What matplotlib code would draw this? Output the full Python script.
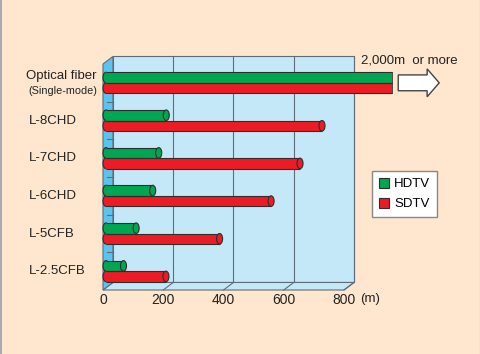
import matplotlib
matplotlib.use("Agg")
import matplotlib.pyplot as plt
from matplotlib.patches import Rectangle, Ellipse, Polygon, FancyArrow, Patch
from matplotlib.lines import Line2D
from matplotlib.transforms import blended_transform_factory

# ---- data ----
categories = ["Optical fiber", "L-8CHD", "L-7CHD", "L-6CHD", "L-5CFB", "L-2.5CFB"]
subtitle = "(Single-mode)"
hdtv = [2000, 210, 185, 165, 110, 68]
sdtv = [2000, 727, 654, 558, 387, 209]
xticks = [0, 200, 400, 600, 800]
xticklabels = ["0", "200", "400", "600", "800"]
unit_label = "(m)"
note = "2,000m  or more"
series_names = ["HDTV", "SDTV"]

# ---- style ----
BG = "#FFE6CF"
WALL = "#C5E8F9"
SIDE = "#5BC4EE"
EDGE = "#5E6C78"
GREEN = "#00A651"
RED = "#ED1C24"
OUT = "#2E2E2E"
FONT = "Liberation Sans"
DISPLAY_CAP = 960       # display limit for values beyond the chart
DX, DY = 33, 0.2        # depth offset (x data units, category units)
BAR_H = 0.28
CAP_W = 20

fig = plt.figure(figsize=(4.8, 3.54), dpi=100, facecolor=BG)
ax = fig.add_axes([103/480, 1-290/354, 241/480, 226/354])
ax.set_xlim(0, 800)
ax.set_ylim(len(categories) - 0.5, -0.5)
ax.patch.set_alpha(0)
for s in ax.spines.values():
    s.set_visible(False)

ymin, ymax = -0.5, len(categories) - 0.5
xmax = xticks[-1]

# back wall
ax.add_patch(Rectangle((DX, ymin - DY), xmax, ymax - ymin, facecolor=WALL,
                       edgecolor=EDGE, lw=0.8, clip_on=False, zorder=1))
# floor
ax.add_patch(Polygon([(0, ymax), (xmax, ymax), (xmax + DX, ymax - DY), (DX, ymax - DY)],
                     closed=True, facecolor=WALL, edgecolor=EDGE, lw=0.8,
                     clip_on=False, zorder=1))
# left side wall
ax.add_patch(Polygon([(0, ymin), (0, ymax), (DX, ymax - DY), (DX, ymin - DY)],
                     closed=True, facecolor=SIDE, edgecolor=EDGE, lw=0.8,
                     clip_on=False, zorder=2))
# grid lines on wall & floor
for xv in xticks[1:]:
    ax.plot([xv + DX, xv + DX], [ymin - DY, ymax - DY], color=EDGE, lw=0.8,
            clip_on=False, zorder=1.5)
    ax.plot([xv, xv + DX], [ymax, ymax - DY], color=EDGE, lw=0.8,
            clip_on=False, zorder=1.5)
# small ticks on side wall
for b in range(1, len(categories)):
    yb = b - 0.5
    ax.plot([DX * 0.45, DX], [yb, yb], color=EDGE, lw=0.8, clip_on=False, zorder=2.5)


def cylinder(y, value, color):
    v = min(value, DISPLAY_CAP)
    x0 = CAP_W / 2
    ax.add_patch(Ellipse((x0, y), CAP_W, BAR_H, facecolor=color,
                         edgecolor=OUT, lw=0.8, clip_on=False, zorder=3))
    ax.add_patch(Rectangle((x0, y - BAR_H / 2), v - x0, BAR_H,
                           facecolor=color, edgecolor="none",
                           clip_on=False, zorder=3.1))
    ax.plot([x0, v], [y - BAR_H / 2, y - BAR_H / 2], color=OUT, lw=0.8,
            clip_on=False, zorder=3.15, solid_capstyle="butt")
    ax.plot([x0, v], [y + BAR_H / 2, y + BAR_H / 2], color=OUT, lw=0.8,
            clip_on=False, zorder=3.15, solid_capstyle="butt")
    if value <= DISPLAY_CAP:
        ax.add_patch(Ellipse((v, y), CAP_W, BAR_H, facecolor=color,
                             edgecolor=OUT, lw=0.8, clip_on=False, zorder=3.2))
    else:
        ax.plot([v, v], [y - BAR_H / 2, y + BAR_H / 2], color=OUT, lw=0.6,
                clip_on=False, zorder=3.15)


for i, (h, s) in enumerate(zip(hdtv, sdtv)):
    cylinder(i - BAR_H / 2, h, GREEN)
    cylinder(i + BAR_H / 2, s, RED)

# arrow + note for the off-scale bars
ax.add_patch(FancyArrow(DISPLAY_CAP + 20, 0, 136, 0, width=0.42, head_width=0.74,
                        head_length=40, length_includes_head=True,
                        facecolor="white", edgecolor="#444444", lw=1.0,
                        clip_on=False, zorder=4))
ax.text(856, -0.59, note, fontsize=9.5, family=FONT, color="#222222",
        ha="left", va="center", clip_on=False)

# category labels
tr = blended_transform_factory(fig.transFigure, ax.transData)
for i, c in enumerate(categories):
    if i == 0:
        ax.text(97/480, i - 0.17, c, transform=tr, fontsize=9.5, family=FONT,
                ha="right", va="center", color="#222222")
        ax.text(97/480, i + 0.21, subtitle, transform=tr, fontsize=7.8, family=FONT,
                ha="right", va="center", color="#222222")
    else:
        ax.text(29/480, i, c, transform=tr, fontsize=9.5, family=FONT,
                ha="left", va="center", color="#222222")

# x ticks
ax.set_yticks([])
ax.set_xticks(xticks)
ax.set_xticklabels(xticklabels, fontsize=10, family=FONT, color="#222222")
ax.tick_params(axis="x", length=0, pad=2.5)
ax.text(886, ymax + 0.08, unit_label, fontsize=9.5, family=FONT, color="#222222",
        ha="center", va="top", clip_on=False)

# legend
handles = [Patch(facecolor=GREEN, edgecolor=OUT, lw=0.8),
           Patch(facecolor=RED, edgecolor=OUT, lw=0.8)]
leg = fig.legend(handles, series_names, loc="center",
                 bbox_to_anchor=(404.5/480, 1-194/354), frameon=True,
                 fancybox=False, edgecolor="#888888", facecolor="white",
                 framealpha=1, handlelength=0.8, handleheight=0.8,
                 handletextpad=0.35, labelspacing=0.55, borderpad=0.5,
                 prop={"family": FONT, "size": 9.5})
leg.get_frame().set_linewidth(1.0)

# figure border strips
fig.add_artist(Line2D([1/480, 1/480], [0, 1], color="#A9A9B2", lw=1.5,
                      transform=fig.transFigure))
fig.add_artist(Line2D([479.5/480, 479.5/480], [0, 1], color="#7A7A7A", lw=0.8,
                      transform=fig.transFigure))

fig.savefig("out.png", dpi=100, facecolor=BG)
